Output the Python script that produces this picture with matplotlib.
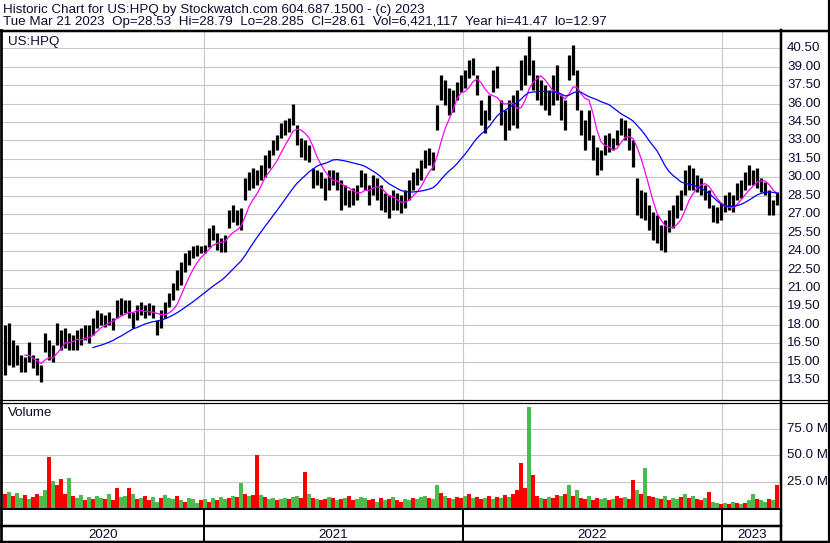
import matplotlib
matplotlib.use("Agg")
import matplotlib.pyplot as plt
import matplotlib.transforms as mtransforms
import numpy as np
import pandas as pd

plt.rcParams["font.family"] = ["Liberation Sans", "DejaVu Sans"]

# ---- data (sampled every 4 trading days, Mar 2020 - Mar 21 2023) ----
high = [
    17.98, 18.15, 16.76, 16.36, 15.54, 15.38, 16.60, 15.54, 15.30, 14.73,
    17.33, 16.76, 16.36, 18.15, 17.58, 17.74, 17.33, 17.17, 17.58, 17.74,
    17.98, 17.98, 18.55, 19.21, 18.96, 18.80, 19.04, 18.55, 20.02, 20.18,
    20.02, 20.02, 19.04, 19.61, 19.86, 19.61, 19.78, 19.61, 18.39, 19.21,
    19.86, 20.59, 21.40, 22.46, 23.11, 23.84, 24.09, 24.41, 24.49, 24.41,
    24.49, 25.88, 26.12, 25.47, 25.06, 25.31, 27.34, 27.75, 27.34, 27.51,
    29.95, 30.43, 30.76, 30.60, 31.00, 31.82, 32.22, 33.04, 33.45, 34.42,
    34.67, 34.83, 35.97, 34.26, 33.20, 33.04, 32.63, 30.76, 30.60, 30.43,
    29.95, 30.60, 30.60, 30.43, 29.78, 29.38, 28.97, 29.13, 29.38, 30.60,
    30.35, 29.38, 30.19, 29.95, 29.38, 28.73, 28.56, 28.97, 28.73, 28.56,
    28.97, 29.78, 30.43, 30.76, 31.41, 32.22, 32.39, 32.06, 35.89, 38.33,
    37.92, 37.27, 37.11, 37.76, 38.33, 38.73, 39.55, 39.71, 38.33, 36.29,
    35.48, 36.70, 38.73, 39.06, 36.29, 35.48, 36.29, 36.70, 37.11, 39.55,
    39.95, 41.47, 39.55, 38.33, 37.92, 37.51, 37.11, 38.33, 39.14, 36.70,
    36.29, 39.95, 40.77, 38.73, 35.48, 34.67, 35.48, 33.45, 32.47, 32.22,
    33.45, 33.61, 33.20, 33.85, 34.83, 34.67, 34.01, 33.04, 29.95, 28.97,
    28.81, 27.75, 27.18, 26.94, 26.12, 26.53, 27.34, 27.75, 28.56, 28.97,
    30.60, 31.00, 30.76, 30.19, 29.95, 29.38, 28.97, 27.75, 27.59, 27.91,
    28.56, 28.81, 28.56, 29.54, 29.78, 30.43, 31.00, 30.60, 30.76, 29.95,
    29.62, 28.97, 28.16, 28.81,
]
low = [
    13.92, 14.73, 14.57, 14.73, 14.16, 14.16, 14.97, 14.48, 13.92, 13.35,
    15.79, 15.14, 14.97, 16.36, 15.95, 16.11, 15.95, 15.95, 15.95, 16.36,
    16.76, 16.52, 17.17, 17.74, 17.98, 17.82, 17.98, 17.58, 18.55, 18.80,
    18.96, 18.55, 17.74, 18.39, 18.80, 18.55, 18.80, 18.55, 17.17, 17.74,
    18.55, 19.45, 20.02, 20.83, 21.24, 22.30, 22.87, 23.44, 23.60, 23.84,
    23.84, 24.33, 24.90, 24.09, 23.93, 23.93, 25.88, 26.37, 26.12, 25.72,
    28.16, 28.97, 29.13, 29.38, 29.78, 30.03, 30.76, 31.82, 32.22, 33.20,
    33.45, 33.69, 34.26, 32.63, 31.65, 31.41, 31.25, 29.13, 29.38, 29.13,
    28.16, 28.97, 29.38, 28.97, 27.34, 27.75, 27.59, 27.75, 28.16, 29.21,
    28.97, 27.75, 28.56, 28.16, 27.34, 27.18, 26.69, 27.34, 27.34, 27.10,
    27.51, 28.16, 28.97, 29.38, 29.78, 30.76, 31.00, 30.60, 33.85, 36.29,
    35.89, 35.07, 35.32, 36.29, 36.94, 37.27, 38.08, 38.33, 36.70, 34.26,
    33.61, 34.67, 36.94, 37.27, 34.26, 33.04, 33.85, 34.26, 34.01, 37.11,
    37.51, 38.33, 37.11, 36.29, 35.89, 35.48, 35.07, 35.89, 36.29, 34.67,
    33.85, 37.92, 38.33, 35.48, 33.45, 32.22, 33.04, 31.41, 30.19, 30.60,
    31.82, 32.06, 32.22, 32.63, 33.45, 33.04, 32.22, 30.84, 26.94, 26.69,
    26.53, 25.72, 24.90, 24.66, 24.09, 23.93, 25.55, 25.88, 26.69, 27.34,
    28.56, 28.97, 28.97, 28.81, 28.56, 28.16, 27.51, 26.37, 26.29, 26.53,
    27.18, 27.34, 27.18, 28.16, 28.32, 28.97, 29.38, 29.38, 29.13, 28.81,
    28.56, 26.94, 26.94, 27.75,
]
# volume in millions of shares
volume = [
    14, 16, 12, 15, 10, 13, 9, 11, 14, 12,
    18, 49, 26, 22, 28, 14, 29, 12, 10, 13,
    8, 11, 9, 12, 10, 9, 14, 8, 20, 11,
    12, 20, 14, 9, 10, 12, 8, 11, 7, 10,
    13, 10, 9, 12, 8, 7, 10, 9, 6, 8,
    9, 7, 10, 8, 11, 9, 10, 12, 11, 24,
    14, 12, 13, 50, 13, 11, 9, 10, 8, 9,
    10, 9, 11, 12, 10, 35, 14, 10, 9, 8,
    9, 11, 10, 8, 9, 10, 12, 8, 9, 11,
    10, 8, 9, 7, 10, 8, 9, 11, 8, 7,
    9, 8, 10, 9, 11, 12, 10, 9, 22, 15,
    12, 10, 9, 11, 10, 12, 14, 10, 11, 9,
    10, 12, 9, 11, 10, 13, 11, 14, 18, 43,
    20, 95, 32, 12, 10, 9, 11, 10, 13, 12,
    14, 22, 12, 18, 10, 9, 12, 8, 10, 9,
    10, 8, 9, 12, 10, 11, 9, 27, 18, 14,
    38, 12, 11, 10, 9, 12, 8, 10, 9, 11,
    14, 10, 12, 9, 8, 10, 16, 7, 6, 5,
    6, 5, 7, 6, 5, 6, 8, 14, 9, 8,
    7, 9, 8, 22,
]
# g = up day, r = down day
vol_dir = (
    "rgrggrgrrg" "grgrrrgrgg" "rgrggrgrrg" "grgrgrrggr" "gggrgrgggr"
    "grgrggrgrg" "rgrrgrggrg" "grggrrgrgr" "rgrgrgrrgg" "grrgrgrgrr"
    "ggrgggrggr" "grgrrgrgrr" "grgrgrgrrr" "rgrrgrgrrg" "rgrgrrgrrg"
    "grgrrgrrgr" "grrgrgrggr" "grgrrgrggr" "grgrgrggrg" "grgr"
)
step = 4
year_labels = ["2020", "2021", "2022", "2023"]
year_starts = [201, 460, 719]          # trading-day index of first session
price_ticks = [13.5, 15, 16.5, 18, 19.5, 21, 22.5, 24, 25.5, 27, 28.5, 30,
               31.5, 33, 34.5, 36, 37.5, 39, 40.5]
vol_ticks = [25, 50, 75]
ma_fast_n, ma_slow_n = 6, 23

header1 = "Historic Chart for US:HPQ by Stockwatch.com 604.687.1500 - (c) 2023"
header2 = ("Tue Mar 21 2023  Op=28.53  Hi=28.79  Lo=28.285  Cl=28.61  "
           "Vol=6,421,117  Year hi=41.47  lo=12.97")

# ---- figure ----
W, H = 830, 543
fig = plt.figure(figsize=(W / 100, H / 100), dpi=100)
fig.patch.set_facecolor("white")
TXT = "#0c0c30"
GRID = "#c8c8c8"
FS = 9.6
n_days = 777


def box(x0, y0, x1, y1):
    a = fig.add_axes([x0 / W, 1 - y1 / H, (x1 - x0) / W, (y1 - y0) / H])
    a.set_xticks([])
    a.set_yticks([])
    for s in a.spines.values():
        s.set_visible(False)
    a.set_xlim(0, n_days)
    return a


days = np.arange(len(high)) * step + 2
mid = pd.Series((np.array(high) + np.array(low)) / 2)

# price panel
ax = box(3, 32, 780, 400)
ax.set_ylim(11.88, 41.83)
for v in price_ticks:
    ax.axhline(v, color=GRID, lw=0.8, zorder=0)
for d in year_starts:
    ax.axvline(d, color=GRID, lw=0.8, zorder=0)
ax.vlines(days, low, high, color="black", lw=2.3, zorder=2)
ax.plot(days, mid.rolling(ma_fast_n).mean(), color="#ff00ff", lw=0.9, zorder=3)
ax.plot(days, mid.rolling(ma_slow_n).mean(), color="#0000ff", lw=0.9, zorder=3)
ax.text(5 / 777, 1 - 9.5 / 368, "US:HPQ", transform=ax.transAxes,
        fontsize=FS, color=TXT, va="center", ha="left")
tr = mtransforms.blended_transform_factory(ax.transAxes, ax.transData)
for v in price_ticks:
    ax.text(1 + 7 / 777, v, f"{v:.2f}", transform=tr, fontsize=FS,
            color=TXT, va="center", ha="left", clip_on=False)

# volume panel
vax = box(3, 403, 780, 509)
vax.set_ylim(0, 99)
for v in vol_ticks:
    vax.axhline(v, color=GRID, lw=0.8, zorder=0)
for d in year_starts:
    vax.axvline(d, color=GRID, lw=0.8, zorder=0)
colors = ["#4cbb4c" if c == "g" else "#ff0000" for c in vol_dir]
vax.bar(days, volume, width=step, color=colors, linewidth=0, zorder=2)
vax.text(5 / 777, 1 - 10 / 106, "Volume", transform=vax.transAxes,
         fontsize=FS, color=TXT, va="center", ha="left")
vtr = mtransforms.blended_transform_factory(vax.transAxes, vax.transData)
for v in vol_ticks:
    vax.text(1 + 7 / 777, v, f"{v:.1f} M", transform=vtr, fontsize=FS,
             color=TXT, va="center", ha="left", clip_on=False)

# date strip
dax = box(3, 509, 780, 542)
dax.set_ylim(0, 1)
for d in year_starts:
    dax.axvline(d, color="black", lw=1.4)
edges = [0] + year_starts + [n_days + 2]
for lab, a, b in zip(year_labels, edges[:-1], edges[1:]):
    dax.text((a + b) / 2, 0.22, lab, fontsize=FS, color=TXT,
             ha="center", va="center")

# frame / header overlay in pixel units
ov = fig.add_axes([0, 0, 1, 1])
ov.set_xlim(0, W)
ov.set_ylim(H, 0)
ov.axis("off")
ov.patch.set_alpha(0)
ov.set_zorder(10)
k = 0.72
ov.plot([0, W], [30.5, 30.5], color="black", lw=2.5 * k)
ov.plot([1.3, 1.3], [30, H], color="black", lw=2.7 * k)
ov.plot([828.8, 828.8], [0, H], color="black", lw=2.2 * k)
ov.plot([781.3, 781.3], [30, H], color="black", lw=2.5 * k)
ov.plot([0, W], [400.3, 400.3], color="black", lw=1.2 * k)
ov.plot([0, W], [402.8, 402.8], color="black", lw=1.2 * k)
ov.plot([0, 781], [509.3, 509.3], color="black", lw=2.0 * k)
ov.plot([0, 781], [526.3, 526.3], color="black", lw=2.5 * k)
ov.plot([0, W], [541.7, 541.7], color="black", lw=2.5 * k)
ov.text(3, 9.5, header1, fontsize=FS, color=TXT, va="center", ha="left")
ov.text(3, 22.5, header2, fontsize=FS, color=TXT, va="center", ha="left")

fig.savefig("out.png", dpi=100)
